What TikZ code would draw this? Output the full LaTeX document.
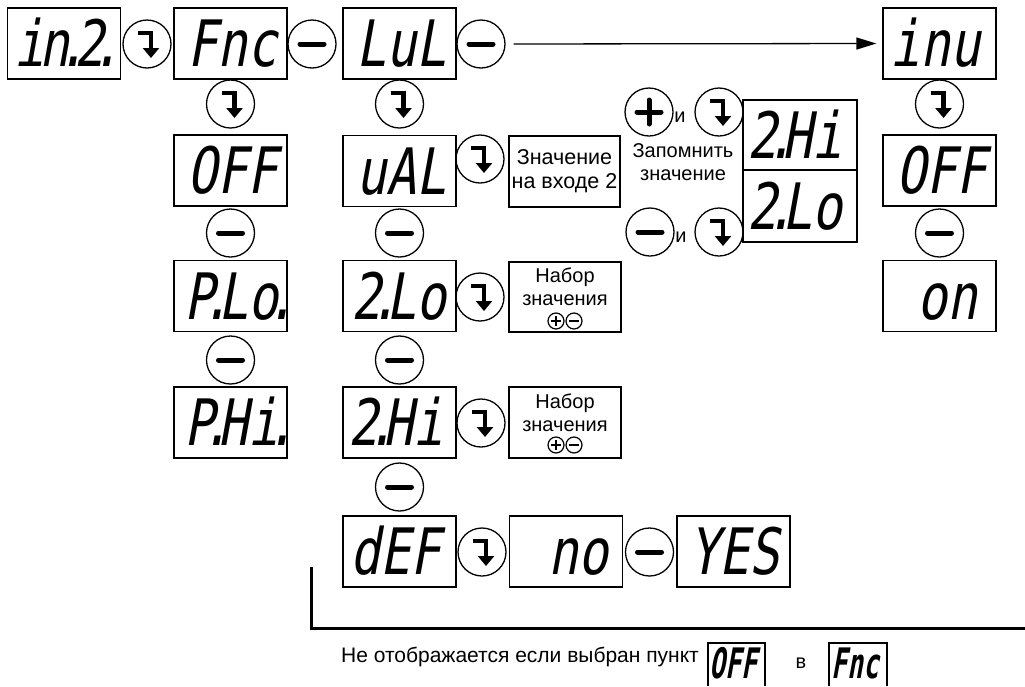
\documentclass[tikz,border=0pt]{standalone}
\usepackage{fontspec}
\setmainfont{Liberation Sans}
\newfontfamily\segf{DejaVu Sans Mono}[FakeSlant=0.18,FakeStretch=0.78]
\newfontfamily\segfs{DejaVu Sans Mono}[FakeSlant=0.18,FakeStretch=0.62]
\usetikzlibrary{arrows.meta}
\newcommand\sgdot{\kern-.2em.\kern-.2em}
\newcommand\mkdisp[5]{%
  \node[disp] (#1) at (#2,#3) {};
  \node[segt] (#1-t) at ([xshift=-#5]#1.east) {#4};}
\tikzset{
  disp/.style={draw, line width=1.3pt, minimum width=113pt, minimum height=71pt, inner sep=0pt},
  segt/.style={font=\segf\fontsize{64}{64}\selectfont, inner sep=0pt, text height=46pt, text depth=0pt, anchor=east},
  segs/.style={font=\segfs\bfseries\fontsize{42}{42}\selectfont, inner sep=0pt, text height=30pt, text depth=0pt, anchor=east},
  sdisp/.style={minimum width=57pt, minimum height=43pt, inner sep=0pt},
  sframe/.style={line width=2.2pt},
  tbox/.style={draw, line width=1.3pt, minimum width=112pt, minimum height=71pt, inner sep=0pt},
  txt/.style={font=\fontsize{20}{23}\selectfont, align=center, inner sep=0pt},
  btn/.style={circle, draw, line width=1.3pt, minimum size=48pt, inner sep=0pt},
  entbtn/.style={btn, path picture={
    \draw[line width=4.5pt, -{Triangle[width=16pt,length=10pt]}]
      ([shift={(-9,-11)}]path picture bounding box.center) -|
      ([shift={(4,14)}]path picture bounding box.center);}},
  minbtn/.style={btn, path picture={
    \draw[line width=5pt, line cap=round]
      ([xshift=-12pt]path picture bounding box.center) --
      ([xshift=12pt]path picture bounding box.center);}},
  plusbtn/.style={btn, path picture={
    \draw[line width=5pt, line cap=round]
      ([xshift=-12pt]path picture bounding box.center) --
      ([xshift=12pt]path picture bounding box.center);
    \draw[line width=5pt, line cap=round]
      ([yshift=-12pt]path picture bounding box.center) --
      ([yshift=12pt]path picture bounding box.center);}},
  sbtn/.style={circle, draw, line width=1.2pt, minimum size=16pt, inner sep=0pt},
  splus/.style={sbtn, path picture={
    \draw[line width=2pt]
      ([xshift=-5pt]path picture bounding box.center) --
      ([xshift=5pt]path picture bounding box.center);
    \draw[line width=2pt]
      ([yshift=-5pt]path picture bounding box.center) --
      ([yshift=5pt]path picture bounding box.center);}},
  sminus/.style={sbtn, path picture={
    \draw[line width=2pt]
      ([xshift=-5pt]path picture bounding box.center) --
      ([xshift=5pt]path picture bounding box.center);}},
}
\begin{document}
\begin{tikzpicture}[x=1pt,y=-1pt]
\useasboundingbox (0,0) rectangle (1025,686);
% displays
\mkdisp{in2}{64}{43.5}{i\kern-.08em n\sgdot 2\sgdot}{12}
\mkdisp{fnc}{230.5}{43.5}{Fnc}{10}
\mkdisp{lul}{399.5}{43.5}{LuL}{10}
\mkdisp{inu}{939.5}{43.5}{inu}{16}
\mkdisp{offa}{230.5}{170.5}{OFF}{10}
\mkdisp{plo}{230.5}{296}{P\sgdot Lo\sgdot}{4}
\mkdisp{phi}{230.5}{422.5}{P\sgdot Hi\sgdot}{4}
\mkdisp{ual}{399.5}{171}{uAL}{10}
\mkdisp{tlo}{399.5}{296}{2\sgdot Lo}{10}
\mkdisp{thi}{399.5}{422.5}{2\sgdot Hi}{13}
\mkdisp{def}{399.5}{551.5}{dEF}{16}
\mkdisp{no}{566}{551.5}{no}{14}
\mkdisp{yes}{733.5}{551.5}{YES}{11}
\mkdisp{offb}{939.5}{170.5}{OFF}{10}
\mkdisp{on}{939.5}{296}{on}{19}
\node[disp, minimum width=114pt, minimum height=70pt] (shi) at (800,135) {};
\node[segt] (shi-t) at ([xshift=-15]shi.east) {2\sgdot Hi};
\node[disp, minimum width=114pt, minimum height=72pt] (slo) at (800,206) {};
\node[segt] (slo-t) at ([xshift=-15]slo.east) {2\sgdot Lo};
% text boxes
\node[tbox, minimum width=111pt] (val) at (564.5,171.5) {};
\node[txt, font=\fontsize{21.5}{24}\selectfont] (val-t) at (val.center) {Значение\\на входе 2};
\node[tbox, minimum height=70pt] (naba) at (565,297) {};
\node[txt] (naba-t) at (565,287) {Набор\\значения};
\node[splus] (nabap) at (556,321) {};
\node[sminus] (nabam) at (574,321) {};
\node[tbox] (nabb) at (565,422.5) {};
\node[txt] (nabb-t) at (565,412.5) {Набор\\значения};
\node[splus] (nabbp) at (556,445) {};
\node[sminus] (nabbm) at (574,445) {};
\node[txt] (mem) at (683,162) {Запомнить\\значение};
\node[txt] (ia) at (680,117) {и};
\node[txt] (ib) at (681,237) {и};
% buttons
\node[entbtn] (b1) at (147,44) {};
\node[minbtn] (b2) at (312,44) {};
\node[minbtn] (b3) at (481,44) {};
\node[entbtn] (b4) at (230.5,104) {};
\node[minbtn] (b5) at (230.5,233) {};
\node[minbtn] (b6) at (230.5,360) {};
\node[entbtn] (b7) at (399.5,104) {};
\node[minbtn] (b8) at (399.5,233) {};
\node[minbtn] (b9) at (399.5,360) {};
\node[minbtn] (b10) at (399.5,487) {};
\node[entbtn] (b11) at (939.5,104) {};
\node[minbtn] (b12) at (939.5,233) {};
\node[entbtn] (b13) at (480,159) {};
\node[entbtn] (b14) at (480,297) {};
\node[entbtn] (b15) at (481,423) {};
\node[entbtn] (b16) at (482,552) {};
\node[minbtn] (b17) at (649.5,552) {};
\node[plusbtn] (b18) at (649,112) {};
\node[entbtn] (b19) at (719,112) {};
\node[minbtn] (b20) at (650,232) {};
\node[entbtn] (b21) at (719,232) {};
% arrow
\draw[line width=1.3pt, -{Triangle[length=20pt,width=12pt]}, shorten <=8pt, shorten >=6pt] (b3.east) -- (inu.west);
% bracket
\coordinate (k1) at (311,567);
\coordinate (k2) at (311,628);
\coordinate (k3) at (1026,628);
\draw[line width=3pt] (k1) -- (k2) -- (k3);
% note
\node[txt, font=\fontsize{21}{24}\selectfont] (note) at (520,657) {Не отображается если выбран пункт};
\node[sdisp] (noff) at (736.5,664.5) {};
\draw[sframe] (noff.south west) -- (noff.north west) -- (noff.north east) -- (noff.south east);
\node[segs] (noff-t) at (757,663) {OFF};
\node[txt] (nv) at (801,663) {в};
\node[sdisp, minimum width=58pt] (nfnc) at (858,664.5) {};
\draw[sframe] (nfnc.south west) -- (nfnc.north west) -- (nfnc.north east) -- (nfnc.south east);
\node[segs] (nfnc-t) at (879,663) {Fnc};
\end{tikzpicture}
\end{document}
